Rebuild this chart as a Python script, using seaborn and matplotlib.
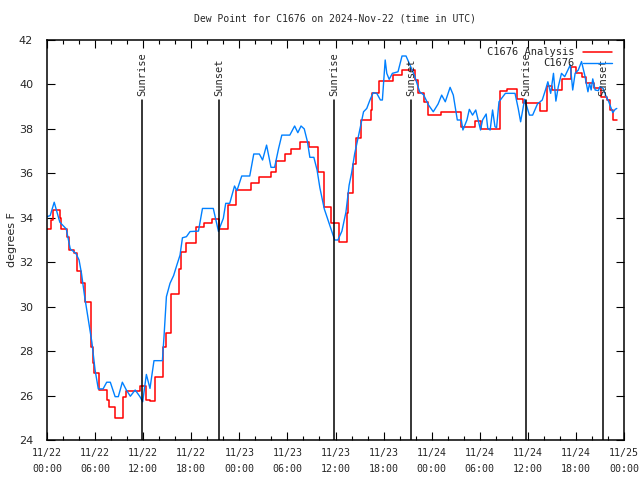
import numpy as np
import pandas as pd
import seaborn as sns
import matplotlib
matplotlib.use('Agg')
import matplotlib.pyplot as plt
from matplotlib.ticker import MultipleLocator

# hours since 2024-11-22 00:00 UTC
obs_hours = [0.0, 0.4, 0.9, 1.6, 2.4, 2.9, 3.6, 4.0, 4.3, 4.7, 5.2, 5.6, 6.0, 6.4, 7.0, 7.45, 7.9,
             8.5, 8.9, 9.4, 9.9, 10.4, 11.0, 11.6, 11.94, 12.4, 12.85, 13.35, 14.4, 14.6, 14.9,
             15.35, 15.8, 16.2, 16.6, 16.9, 17.4, 17.85, 18.9, 19.4, 20.75, 21.4, 21.6, 22.0,
             22.3, 22.8, 23.4, 23.7, 24.3, 25.3, 25.8, 26.5, 26.9, 27.4, 27.95, 28.4, 28.9, 29.3,
             30.3, 30.9, 31.3, 31.7, 32.1, 32.5, 32.8, 33.3, 33.7, 34.05, 34.6, 35.3, 35.9, 36.3,
             36.8, 37.3, 37.7, 38.0, 38.4, 38.85, 39.5, 39.9, 40.3, 40.7, 41.15, 41.6, 41.85,
             42.2, 42.4, 42.7, 43.1, 43.8, 44.3, 44.8, 45.3, 45.9, 46.5, 47.0, 47.6, 48.2, 48.8,
             49.25, 49.7, 50.3, 50.7, 51.2, 51.7, 51.9, 52.4, 52.7, 53.1, 53.5, 53.8, 54.1,
             54.35, 54.8, 55.0, 55.3, 55.6, 55.9, 56.1, 56.4, 57.2, 58.4, 58.8, 59.1, 59.6,
             60.2, 60.6, 61.2, 61.8, 62.2, 62.5, 62.85, 63.2, 63.5, 63.8, 64.2, 64.6, 65.3,
             65.6, 65.9, 66.3, 66.7, 67.1, 67.5, 67.7, 67.9, 68.1, 68.4, 68.8, 69.0, 69.4,
             69.7, 70.1, 70.6, 70.9, 71.1]
obs_dewpt = [34.05, 34.1, 34.7, 33.8, 33.5, 32.6, 32.4, 32.1, 31.5, 30.45, 29.3, 28.4, 27.15, 26.3,
             26.3, 26.6, 26.6, 25.95, 25.95, 26.6, 26.25, 25.97, 26.25, 25.95, 25.72, 26.95,
             26.32, 27.57, 27.57, 28.65, 30.45, 31.05, 31.4, 31.87, 32.32, 33.1, 33.15, 33.38,
             33.4, 34.42, 34.42, 33.38, 33.6, 33.97, 34.65, 34.65, 35.43, 35.22, 35.88, 35.88,
             36.87, 36.87, 36.6, 37.27, 36.27, 36.27, 37.12, 37.72, 37.72, 38.13, 37.83, 38.13,
             38.0, 37.42, 36.72, 36.72, 36.15, 35.35, 34.4, 33.65, 33.0, 33.0, 33.4, 34.25,
             35.47, 36.0, 36.9, 37.65, 38.77, 38.92, 39.3, 39.63, 39.6, 39.3, 39.3, 41.1, 40.5,
             40.23, 40.5, 40.57, 41.28, 41.28, 40.87, 40.35, 39.67, 39.53, 39.08, 38.77, 39.12,
             39.52, 39.22, 39.87, 39.52, 38.4, 38.4, 37.95, 38.4, 38.88, 38.62, 38.85, 38.4,
             37.95, 38.4, 38.67, 38.02, 37.95, 38.85, 38.1, 38.05, 39.22, 39.6, 39.6, 38.92,
             38.32, 39.33, 38.62, 38.62, 39.12, 39.3, 39.75, 40.12, 39.6, 40.5, 39.25, 39.9,
             40.5, 40.35, 40.88, 39.75, 40.5, 40.65, 41.03, 40.42, 39.67, 40.05, 39.75, 40.25,
             39.75, 39.72, 39.9, 39.82, 39.52, 39.22, 38.73, 38.88, 38.92]

# analysis is a step series: value holds from each time to the next
ana_hours = [0.0, 0.5, 0.8, 1.6, 1.8, 2.5, 2.8, 3.4, 3.8, 4.3, 4.8, 5.5, 5.7, 5.9, 6.5, 7.5, 7.7,
             8.5, 9.5, 9.8, 11.6, 12.3, 12.8, 13.5, 14.5, 14.8, 15.5, 16.5, 16.7, 17.3, 18.6,
             19.6, 20.6, 21.5, 22.6, 23.6, 25.4, 26.5, 27.9, 28.6, 29.7, 30.5, 31.6, 32.7, 33.8,
             34.6, 35.5, 36.4, 37.4, 37.6, 38.2, 38.6, 39.2, 40.4, 40.6, 41.4, 43.2, 44.3, 45.9,
             46.3, 47.0, 47.6, 49.2, 51.6, 53.4, 54.2, 56.5, 57.4, 58.6, 59.4, 61.5, 62.4, 63.0,
             64.3, 65.4, 66.0, 66.8, 67.3, 68.3, 69.1, 69.9, 70.3, 70.6, 71.1]
ana_dewpt = [33.48, 33.9, 34.35, 33.97, 33.5, 33.15, 32.55, 32.4, 31.6, 31.05, 30.2, 28.2, 27.45,
             27.0, 26.25, 25.8, 25.47, 24.97, 25.95, 26.2, 26.45, 25.8, 25.75, 26.85, 28.2, 28.8,
             30.55, 31.7, 32.47, 32.85, 33.57, 33.75, 33.93, 33.5, 34.57, 35.25, 35.55, 35.85,
             36.07, 36.57, 36.87, 37.08, 37.4, 37.2, 36.07, 34.47, 33.75, 32.93, 34.2, 35.13,
             36.4, 37.57, 38.4, 38.85, 39.6, 40.15, 40.42, 40.65, 40.2, 39.6, 39.22, 38.62,
             38.75, 38.07, 38.35, 37.98, 39.72, 39.8, 39.33, 39.15, 38.8, 39.93, 39.75, 40.23,
             40.8, 40.5, 40.35, 40.08, 39.85, 39.45, 39.3, 38.85, 38.4, 38.4]

sunrise_hours = [11.87, 35.8, 59.8]
sunset_hours = [21.47, 45.4, 69.4]

tick_labels = ['11/22\n00:00', '11/22\n06:00', '11/22\n12:00', '11/22\n18:00',
               '11/23\n00:00', '11/23\n06:00', '11/23\n12:00', '11/23\n18:00',
               '11/24\n00:00', '11/24\n06:00', '11/24\n12:00', '11/24\n18:00',
               '11/25\n00:00']

obs = pd.DataFrame({'hour': obs_hours, 'dewpt': obs_dewpt})
ana = pd.DataFrame({'hour': ana_hours, 'dewpt': ana_dewpt})

sns.set_style('ticks')
mono = 'DejaVu Sans Mono'

fig = plt.figure(figsize=(6.4, 4.8), dpi=100)
ax = fig.add_axes([47/640, 40/480, 577/640, 400/480])

sns.lineplot(data=ana, x='hour', y='dewpt', ax=ax, color='#ff0000', lw=1.1,
             drawstyle='steps-post', estimator=None, sort=False, label='C1676 Analysis')
sns.lineplot(data=obs, x='hour', y='dewpt', ax=ax, color='#0080ff', lw=1.0,
             estimator=None, sort=False, label='C1676')

# sunrise / sunset markers
for h in sunrise_hours:
    ax.axvline(h, ymin=0, ymax=(39.3 - 24) / 18, color='black', lw=1.1)
    ax.text(h, 39.5, 'Sunrise', rotation=90, ha='center', va='bottom',
            family=mono, fontsize=7.5)
for h in sunset_hours:
    ax.axvline(h, ymin=0, ymax=(39.3 - 24) / 18, color='black', lw=1.1)
    ax.text(h, 39.5, 'Sunset', rotation=90, ha='center', va='bottom',
            family=mono, fontsize=7.5)

ax.set_xlim(0, 72)
ax.set_ylim(24, 42)
ax.set_xticks(np.arange(0, 73, 6))
ax.set_xticklabels(tick_labels, family=mono, fontsize=7.2, linespacing=1.7)
ax.xaxis.set_minor_locator(MultipleLocator(2))
ax.set_yticks(np.arange(24, 43, 2))
ax.tick_params(axis='y', labelsize=8, pad=10)
ax.tick_params(axis='x', pad=6)
ax.tick_params(which='both', direction='in', top=True, right=True, color='black')
ax.tick_params(which='major', length=6, width=0.8)
ax.tick_params(which='minor', length=3, width=0.8)
for s in ax.spines.values():
    s.set_linewidth(1.1)
    s.set_color('black')

ax.set_xlabel('')
ax.set_ylabel('degrees F', fontsize=8)
ax.yaxis.set_label_coords(-0.052, 0.5)
ax.set_title('Dew Point for C1676 on 2024-Nov-22 (time in UTC)', family=mono,
             fontsize=7, pad=13)

leg = ax.legend(loc='upper right', bbox_to_anchor=(0.995, 1.005), frameon=False,
                markerfirst=False, handlelength=2.8, labelspacing=0.1,
                prop={'family': mono, 'size': 7.5})
for t in leg.get_texts():
    t.set_ha('right')

fig.savefig('out.png', dpi=100)
